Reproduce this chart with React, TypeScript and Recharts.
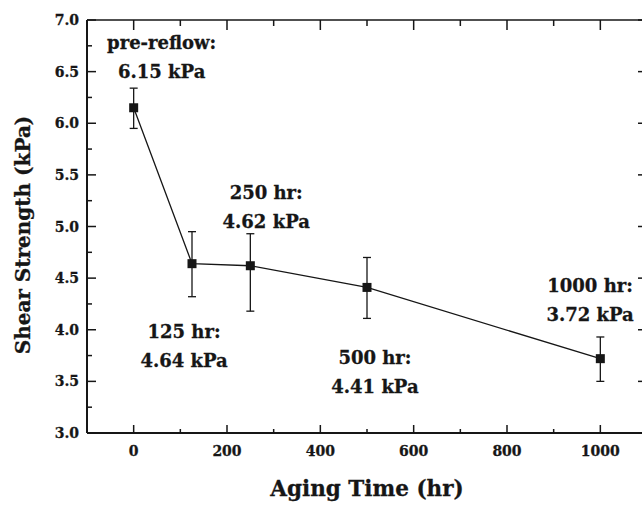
import React from "react";
import { ErrorBar, Label, Line, LineChart, ReferenceDot, XAxis, YAxis } from "recharts";

const HOURS = [0, 125, 250, 500, 1000];
const STRENGTH = [6.15, 4.64, 4.62, 4.41, 3.72];
const ERR_LOW = [0.2, 0.32, 0.44, 0.3, 0.22];
const ERR_HIGH = [0.19, 0.31, 0.31, 0.29, 0.21];

const X_TICKS = [0, 100, 200, 300, 400, 500, 600, 700, 800, 900, 1000];
const X_LABELED = [0, 200, 400, 600, 800, 1000];
const Y_TICKS = [3, 3.25, 3.5, 3.75, 4, 4.25, 4.5, 4.75, 5, 5.25, 5.5, 5.75, 6, 6.25, 6.5, 6.75, 7];
const Y_LABELED = [3, 3.5, 4, 4.5, 5, 5.5, 6, 6.5, 7];

// annotation anchors, in data units (centre of first line)
const NOTE_X = [60, 108, 284, 517, 978];
const NOTE_Y = [6.78, 3.98, 5.33, 3.73, 4.43];
const NOTE_LINE1 = ["pre-reflow:", "125 hr:", "250 hr:", "500 hr:", "1000 hr:"];
const NOTE_LINE2 = ["6.15 kPa", "4.64 kPa", "4.62 kPa", "4.41 kPa", "3.72 kPa"];

const INK = "#161616";
const FONT = "'DejaVu Serif', 'Liberation Serif', serif";

const data = HOURS.map((x, i) => ({ x, y: STRENGTH[i], err: [ERR_LOW[i], ERR_HIGH[i]] }));

const isIn = (list: number[], v: number) => list.some((t) => Math.abs(t - v) < 1e-6);

function LeftTick({ x, y, payload }: any) {
  const major = isIn(Y_LABELED, payload.value);
  return (
    <g>
      <line x1={x} x2={x + (major ? 9 : 5)} y1={y} y2={y} stroke={INK} strokeWidth={1.5} />
      {major ? (
        <text x={x - 8} y={y} textAnchor="end" dominantBaseline="central" fontFamily={FONT}
          fontWeight="bold" fontSize={14} fill={INK} stroke={INK} strokeWidth={0.3}>
          {payload.value.toFixed(1)}
        </text>
      ) : null}
    </g>
  );
}

function RightTick({ x, y, payload }: any) {
  const major = isIn(Y_LABELED, payload.value);
  return <line x1={x} x2={x - (major ? 9 : 5)} y1={y} y2={y} stroke={INK} strokeWidth={1.5} />;
}

function BottomTick({ x, y, payload }: any) {
  const major = isIn(X_LABELED, payload.value);
  return (
    <g>
      <line x1={x} x2={x} y1={y} y2={y - (major ? 8 : 4)} stroke={INK} strokeWidth={1.5} />
      {major ? (
        <text x={x} y={y + 18} textAnchor="middle" dominantBaseline="central" fontFamily={FONT}
          fontWeight="bold" fontSize={14} fill={INK} stroke={INK} strokeWidth={0.3}>
          {payload.value}
        </text>
      ) : null}
    </g>
  );
}

function TopTick({ x, y, payload }: any) {
  const major = isIn(X_LABELED, payload.value);
  return <line x1={x} x2={x} y1={y} y2={y + (major ? 10 : 6)} stroke={INK} strokeWidth={1.5} />;
}

function Square({ cx, cy }: any) {
  if (cx == null || cy == null) return null;
  return <rect x={cx - 4.5} y={cy - 4.5} width={9} height={9} fill={INK} />;
}

function noteContent(i: number) {
  return ({ viewBox }: any) => {
    const cx = viewBox.x + viewBox.width / 2;
    const cy = viewBox.y + viewBox.height / 2;
    return (
      <g fontFamily={FONT} fontWeight="bold" fontSize={18} fill={INK} stroke={INK} strokeWidth={0.3}
        textAnchor="middle">
        <text x={cx} y={cy} dominantBaseline="central">{NOTE_LINE1[i]}</text>
        <text x={cx} y={cy + 29} dominantBaseline="central">{NOTE_LINE2[i]}</text>
      </g>
    );
  };
}

export default function App() {
  return (
    <div style={{ position: "absolute", left: 0, top: 0, width: 642, height: 508, overflow: "hidden", background: "#fff" }}>
      <LineChart width={660} height={508} data={data} margin={{ top: 19, right: 12, bottom: 0, left: 0 }}>
        <XAxis
          dataKey="x"
          type="number"
          domain={[-100, 1100]}
          allowDataOverflow
          ticks={X_TICKS}
          interval={0}
          height={75}
          tickSize={0}
          tickMargin={0}
          tickLine={false}
          tick={<BottomTick />}
          axisLine={{ stroke: INK, strokeWidth: 2 }}
        >
          <Label
            content={() => (
              <text x={367} y={496} textAnchor="middle"
                fontFamily={FONT} fontWeight="bold" fontSize={21.5} fill={INK} stroke={INK} strokeWidth={0.3}>
                Aging Time (hr)
              </text>
            )}
          />
        </XAxis>
        <XAxis
          xAxisId="top"
          orientation="top"
          dataKey="x"
          type="number"
          domain={[-100, 1100]}
          allowDataOverflow
          ticks={X_TICKS}
          interval={0}
          height={1}
          tickSize={0}
          tickMargin={0}
          tickLine={false}
          tick={<TopTick />}
          axisLine={{ stroke: INK, strokeWidth: 1.5 }}
        />
        <YAxis
          type="number"
          domain={[3, 7]}
          allowDataOverflow
          ticks={Y_TICKS}
          interval={0}
          width={87}
          tickSize={0}
          tickMargin={0}
          tickLine={false}
          tick={<LeftTick />}
          axisLine={{ stroke: INK, strokeWidth: 2 }}
        >
          <Label
            content={() => {
              const x = 23;
              const y = 235;
              return (
                <text x={x} y={y} transform={`rotate(-90, ${x}, ${y})`} textAnchor="middle"
                  dominantBaseline="central" fontFamily={FONT} fontWeight="bold" fontSize={20} fill={INK}
                  stroke={INK} strokeWidth={0.3}>
                  Shear Strength (kPa)
                </text>
              );
            }}
          />
        </YAxis>
        <YAxis
          yAxisId="right"
          orientation="right"
          type="number"
          domain={[3, 7]}
          allowDataOverflow
          ticks={Y_TICKS}
          interval={0}
          width={1}
          tickSize={0}
          tickMargin={0}
          tickLine={false}
          tick={<RightTick />}
          axisLine={{ stroke: INK, strokeWidth: 1.5 }}
        />
        <Line
          dataKey="y"
          type="linear"
          stroke={INK}
          strokeWidth={1.3}
          dot={<Square />}
          activeDot={false}
          isAnimationActive={false}
        >
          <ErrorBar dataKey="err" direction="y" width={4} stroke={INK} strokeWidth={1.3} />
        </Line>
        {NOTE_X.map((nx, i) => (
          <ReferenceDot
            key={NOTE_LINE1[i]}
            x={nx}
            y={NOTE_Y[i]}
            r={1}
            fill="none"
            stroke="none"
            ifOverflow="visible"
            label={{ content: noteContent(i) } as any}
          />
        ))}
      </LineChart>
    </div>
  );
}
